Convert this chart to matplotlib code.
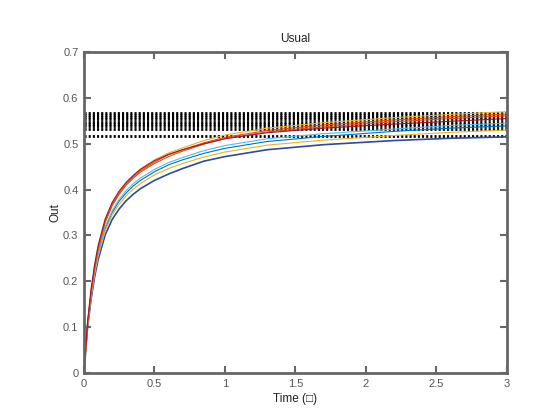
import numpy as np
import matplotlib
matplotlib.use('Agg')
import matplotlib.pyplot as plt

plt.rcParams['font.family'] = ['Liberation Sans', 'DejaVu Sans']

# time samples
t = [0, 0.025, 0.05, 0.075, 0.1, 0.15, 0.2, 0.25, 0.3, 0.35, 0.4, 0.5,
     0.6, 0.7, 0.85, 1.0, 1.3, 1.7, 2.2, 2.6, 3.0]

# output curves
out_darkblue = [0, 0.098, 0.160, 0.209, 0.247, 0.301, 0.335, 0.358, 0.376, 0.390, 0.402, 0.420,
                0.434, 0.446, 0.462, 0.472, 0.487, 0.498, 0.507, 0.512, 0.515]
out_blue = [0, 0.102, 0.167, 0.218, 0.259, 0.315, 0.350, 0.375, 0.393, 0.408, 0.420, 0.439,
            0.454, 0.465, 0.479, 0.490, 0.505, 0.516, 0.527, 0.534, 0.539]
out_yellow_lo = [0, 0.101, 0.164, 0.215, 0.254, 0.310, 0.345, 0.368, 0.387, 0.401, 0.413, 0.432,
                 0.446, 0.457, 0.471, 0.482, 0.497, 0.508, 0.518, 0.525, 0.530]
out_lightblue = [0, 0.104, 0.169, 0.221, 0.262, 0.319, 0.354, 0.379, 0.398, 0.413, 0.425, 0.444,
                 0.459, 0.470, 0.485, 0.496, 0.511, 0.522, 0.532, 0.540, 0.545]
out_yellow_hi = [0, 0.108, 0.177, 0.231, 0.274, 0.333, 0.371, 0.396, 0.416, 0.431, 0.445, 0.465,
                 0.480, 0.491, 0.507, 0.519, 0.534, 0.546, 0.557, 0.564, 0.570]
out_red = [0, 0.107, 0.175, 0.229, 0.271, 0.331, 0.367, 0.393, 0.412, 0.428, 0.441, 0.460,
           0.476, 0.487, 0.502, 0.514, 0.529, 0.541, 0.552, 0.559, 0.565]
out_orange = [0, 0.107, 0.174, 0.227, 0.269, 0.328, 0.365, 0.390, 0.410, 0.425, 0.438, 0.457,
              0.472, 0.484, 0.499, 0.511, 0.526, 0.537, 0.548, 0.555, 0.561]
out_darkred = [0, 0.111, 0.183, 0.236, 0.278, 0.336, 0.372, 0.397, 0.416, 0.431, 0.444, 0.463,
               0.477, 0.487, 0.500, 0.511, 0.524, 0.534, 0.543, 0.549, 0.555]

# steady state levels (dotted black lines)
levels = [0.518, 0.533, 0.538, 0.543, 0.548, 0.553, 0.558, 0.563, 0.568]

curves = [
    (out_darkblue, '#2f4a9e', 1.2),
    (out_blue, '#0072bd', 0.8),
    (out_yellow_lo, '#edb120', 0.8),
    (out_lightblue, '#4dbeee', 0.8),
    (out_yellow_hi, '#edb120', 0.8),
    (out_red, '#e04a1c', 0.8),
    (out_orange, '#d95319', 0.8),
    (out_darkred, '#a2142f', 0.8),
]

fig = plt.figure(figsize=(5.6, 4.2), dpi=100)
ax = fig.add_axes([0.15, 0.112, 0.755, 0.764])

for lv in levels:
    ax.plot([t[0], t[-1]], [lv, lv], color='black', lw=2.0, dashes=(0.75, 0.75))

for y, c, w in curves:
    ax.plot(t, y, color=c, lw=w)

ax.set_xlim(0, 3)
ax.set_ylim(0, 0.7)
ax.set_xticks(np.arange(0, 3.01, 0.5))
ax.set_xticklabels(['0', '0.5', '1', '1.5', '2', '2.5', '3'])
ax.set_yticks(np.arange(0, 0.71, 0.1))
ax.set_yticklabels(['0', '0.1', '0.2', '0.3', '0.4', '0.5', '0.6', '0.7'])

gray = '#666666'
for s in ax.spines.values():
    s.set_color(gray)
    s.set_linewidth(2)
ax.tick_params(direction='in', length=5, width=1.5, color=gray,
               labelcolor='#555555', labelsize=8, top=True, right=True, pad=4)

ax.set_title('Usual', fontsize=8.5, color='#222222', pad=7)
ax.set_xlabel('Time (\u25a1)', fontsize=8.5, color='#222222', labelpad=3)
ax.set_ylabel('Out', fontsize=8.5, color='#222222', labelpad=1)

fig.savefig('out.png', dpi=100)
